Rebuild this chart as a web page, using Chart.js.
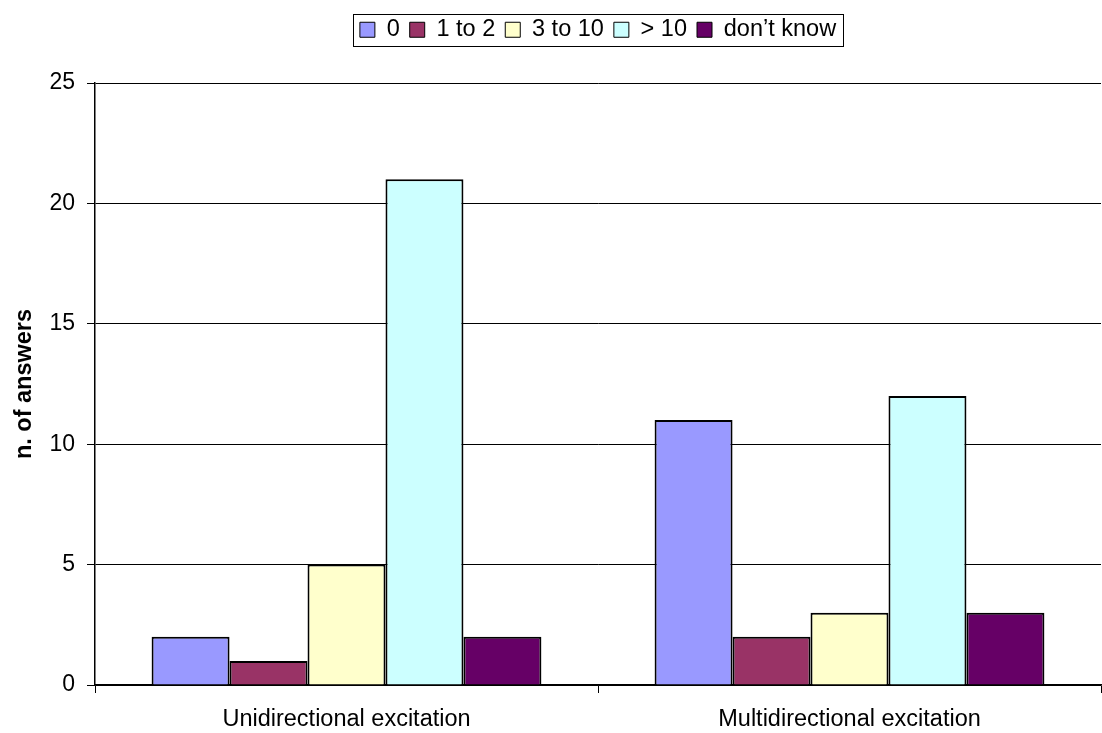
<!DOCTYPE html>
<html>
<head>
<meta charset="utf-8">
<script src="https://cdn.jsdelivr.net/npm/chart.js@4"></script>
<style>
  html, body { margin: 0; padding: 0; background: #fff; }
  #wrap { width: 1102px; height: 733px; }
</style>
</head>
<body>
<div id="wrap"><canvas id="c" width="1102" height="733"></canvas></div>
<script>
const categories = ['Unidirectional excitation', 'Multidirectional excitation'];
const seriesNames = ['0', '1 to 2', '3 to 10', '> 10', 'don\u2019t know'];
const answers0 = [2, 11];
const answers1to2 = [1, 2];
const answers3to10 = [5, 3];
const answersOver10 = [21, 12];
const answersDontKnow = [2, 3];
const seriesColors = ['#9999FF', '#993366', '#FFFFCC', '#CCFFFF', '#660066'];
const yTicks = [0, 5, 10, 15, 20, 25];

const seriesValues = [answers0, answers1to2, answers3to10, answersOver10, answersDontKnow];
const FONT = 'Liberation Sans, Arial, sans-serif';

// Fixed band for the legend, centred over the plot area
const legendBand = {
  id: 'legendBand',
  afterInit(chart) {
    const lg = chart.legend;
    if (!lg) return;
    const fit = lg.fit;
    lg.fit = function () {
      fit.call(this);
      this.height = 75;
    };
  },
  afterLayout(chart) {
    const lg = chart.legend;
    const ca = chart.chartArea;
    if (!lg || !ca) return;
    const shift = (ca.left + ca.right) / 2 - (lg.left + lg.right) / 2;
    lg.left += shift;
    lg.right += shift;
  }
};

// Frame drawn around the legend entries
const legendFrame = {
  id: 'legendFrame',
  afterDraw(chart) {
    const lg = chart.legend;
    if (!lg || !lg.legendHitBoxes || !lg.legendHitBoxes.length) return;
    const boxes = lg.legendHitBoxes;
    const x0 = Math.min(...boxes.map(b => b.left)) - 7;
    const x1 = Math.max(...boxes.map(b => b.left + b.width)) + 7;
    const y0 = Math.min(...boxes.map(b => b.top)) - 4;
    const y1 = Math.max(...boxes.map(b => b.top + b.height)) + 4;
    const ctx = chart.ctx;
    ctx.save();
    ctx.strokeStyle = '#000';
    ctx.lineWidth = 1;
    ctx.strokeRect(Math.round(x0) + 0.5, Math.round(y0) + 0.5, Math.round(x1 - x0), Math.round(y1 - y0));
    ctx.restore();
  }
};

new Chart(document.getElementById('c'), {
  type: 'bar',
  data: {
    labels: categories,
    datasets: seriesNames.map((name, i) => ({
      label: name,
      data: seriesValues[i],
      backgroundColor: seriesColors[i],
      borderColor: '#000',
      borderWidth: 2,
      categoryPercentage: 0.775,
      barPercentage: 1.0
    }))
  },
  plugins: [legendBand, legendFrame],
  options: {
    responsive: false,
    animation: false,
    layout: { padding: { left: 10, right: 1, top: 8, bottom: 0 } },
    plugins: {
      tooltip: { enabled: false },
      legend: {
        position: 'top',
        labels: {
          font: { family: FONT, size: 23.5 },
          color: '#000',
          boxWidth: 15,
          boxHeight: 15,
          padding: 10,
          generateLabels(chart) {
            return chart.data.datasets.map((ds, i) => ({
              text: ds.label,
              fillStyle: ds.backgroundColor,
              strokeStyle: '#000',
              lineWidth: 1,
              datasetIndex: i,
              fontColor: '#000'
            }));
          }
        }
      }
    },
    scales: {
      x: {
        offset: true,
        grid: {
          offset: true,
          drawOnChartArea: false,
          drawTicks: true,
          tickLength: 8,
          color: '#000'
        },
        border: { color: '#000', width: 1.5 },
        ticks: {
          font: { family: FONT, size: 23.5 },
          color: '#000',
          padding: 12
        },
        afterFit(a) { a.height = 48; }
      },
      y: {
        min: 0,
        max: 25,
        afterBuildTicks(axis) { axis.ticks = yTicks.map(v => ({ value: v })); },
        grid: {
          color: '#000',
          lineWidth: 1,
          tickLength: 8
        },
        border: { color: '#000', width: 1.5 },
        ticks: {
          font: { family: FONT, size: 23 },
          color: '#000',
          padding: 12
        },
        title: {
          display: true,
          text: 'n. of answers',
          font: { family: FONT, size: 23.5, weight: 'bold' },
          color: '#000',
          padding: { top: 0, bottom: 8 }
        },
        afterFit(a) { a.width = 85; }
      }
    }
  }
});
</script>
</body>
</html>
